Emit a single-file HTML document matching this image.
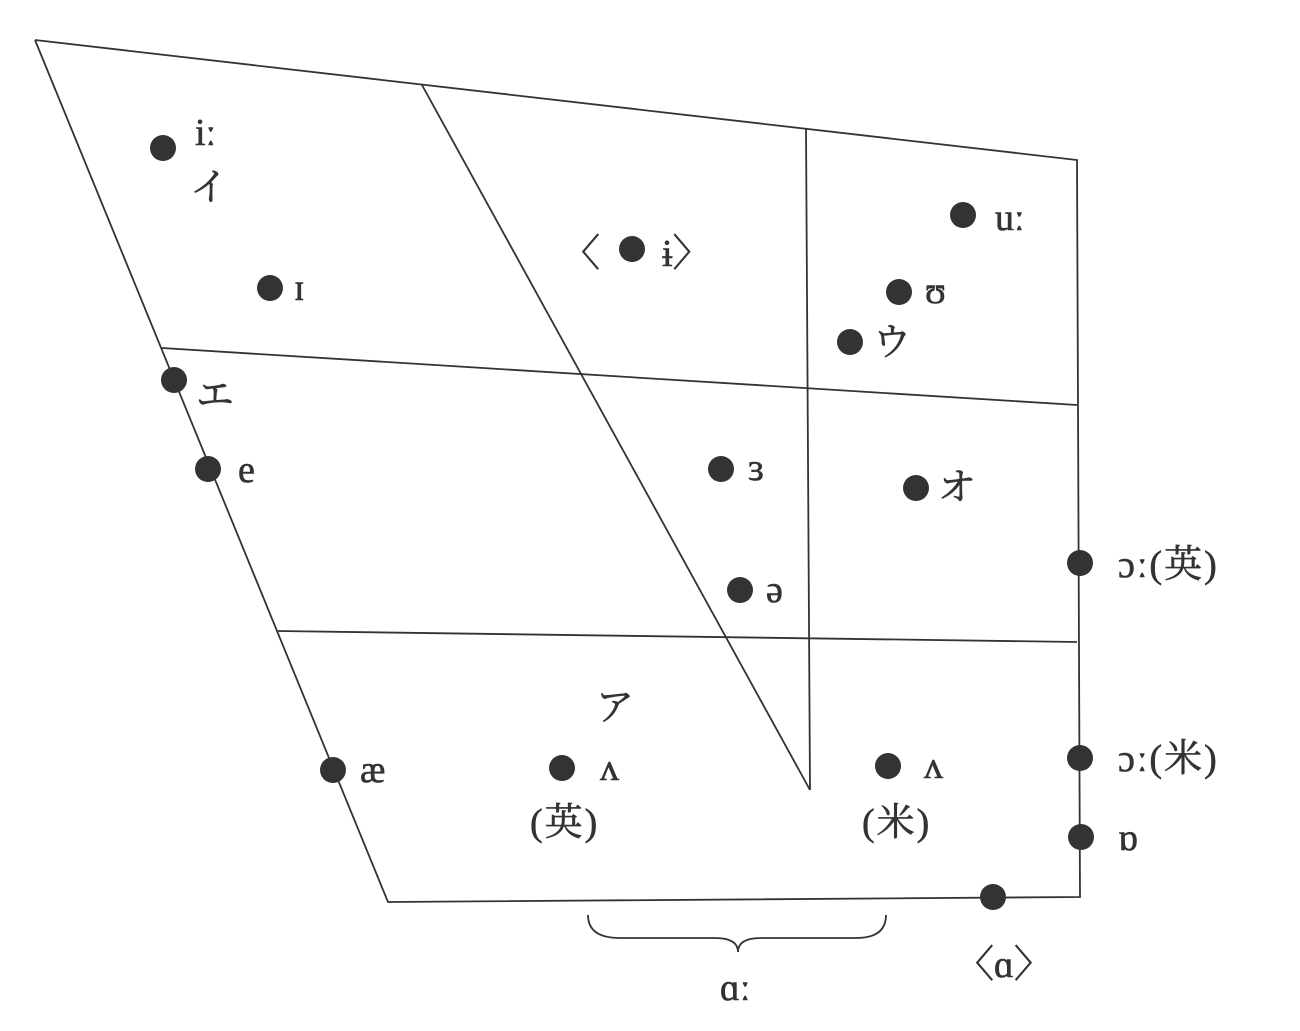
<!DOCTYPE html>
<html><head><meta charset="utf-8"><style>
html,body{margin:0;padding:0;background:#fff;}
svg{display:block}
text{font-family:"Liberation Serif","Noto Serif CJK SC","Noto Sans CJK JP",serif;fill:#333;font-size:38px;stroke:#333;stroke-width:0.6;}
</style></head><body>
<svg width="1300" height="1031" viewBox="0 0 1300 1031">
<g stroke="#333" stroke-width="1.8" fill="none">
<polyline points="35,40 1077,160 1080,897 388,902 35,40"/>
<line x1="422" y1="85" x2="810" y2="790"/>
<line x1="806" y1="128" x2="810" y2="790"/>
<line x1="162" y1="348" x2="1077" y2="405"/>
<line x1="278" y1="631" x2="1077" y2="642"/>
<path d="M588,915 Q588,938 620,938 L715,938 Q738,938 738,952 Q738,938 761,938 L856,938 Q886,938 886,915"/>
</g>
<g fill="#333">
<circle cx="163" cy="148" r="13"/><circle cx="270" cy="288" r="13"/>
<circle cx="632" cy="249" r="13"/><circle cx="963" cy="215" r="13"/>
<circle cx="899" cy="292" r="13"/><circle cx="850" cy="342" r="13"/>
<circle cx="174" cy="380" r="13"/><circle cx="208" cy="469" r="13"/>
<circle cx="721" cy="469" r="13"/><circle cx="916" cy="488" r="13"/>
<circle cx="740" cy="590" r="13"/><circle cx="1080" cy="563" r="13"/>
<circle cx="333" cy="770" r="13"/><circle cx="562" cy="768" r="13"/>
<circle cx="888" cy="766" r="13"/><circle cx="1080" cy="758" r="13"/>
<circle cx="1081" cy="837" r="13"/><circle cx="993" cy="897" r="13"/>
</g>
<text x="195" y="145">iː</text>
<text x="190" y="200">イ</text>
<text x="294" y="300">ɪ</text>
<text x="562" y="266">〈</text>
<text x="662" y="266">ɨ〉</text>
<text x="995" y="230">uː</text>
<text x="925" y="303">ʊ</text>
<text x="873" y="355">ウ</text>
<text x="196" y="408">エ</text>
<text x="238" y="482">e</text>
<text x="748" y="480">ɜ</text>
<text x="938" y="500">オ</text>
<text x="766" y="602">ə</text>
<text x="1118" y="577" letter-spacing="2">ɔː(英)</text>
<text x="596" y="720">ア</text>
<text x="360" y="782">æ</text>
<text x="600" y="780">ʌ</text>
<text x="530" y="835" letter-spacing="2">(英)</text>
<text x="924" y="778">ʌ</text>
<text x="862" y="835" letter-spacing="2">(米)</text>
<text x="1118" y="771" letter-spacing="2">ɔː(米)</text>
<text x="1118" y="850">ɒ</text>
<text x="956" y="977">〈ɑ〉</text>
<text x="720" y="1000">ɑː</text>
</svg>
</body></html>
